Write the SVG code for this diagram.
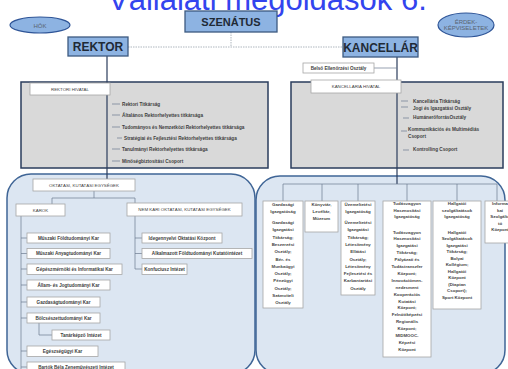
<svg xmlns="http://www.w3.org/2000/svg" width="508" height="369" viewBox="0 0 508 369">
<style>
text{font-family:"Liberation Sans",Arial,sans-serif}
.title{font-size:31px;fill:#3344ee}
.bluebox{fill:#8db3e2;stroke:#3d5a80;stroke-width:1.3}
.bold{font-weight:bold;fill:#1f2a36;text-anchor:middle}
.ell{fill:#8db3e2;stroke:#2f5597;stroke-width:1.2}
.etx{font-size:6px;fill:#5a6470;text-anchor:middle}
.grey{fill:#d9d9d9;stroke:#2a3c5c;stroke-width:1.5}
.lblue{fill:#dce6f2;stroke:#3f6596;stroke-width:1.5}
.wb{fill:#fff;stroke:#a6a6a6;stroke-width:0.8}
.lbl{font-size:4.4px;fill:#404040;text-anchor:middle}
.it{font-size:4.7px;font-weight:bold;fill:#404040}
.itc{font-size:4.6px;font-weight:bold;fill:#404040;text-anchor:middle}
.col{font-size:4.4px;font-weight:bold;fill:#454545;text-anchor:middle}
.ln{stroke:#2a3c5c;stroke-width:1.2;fill:none}
.tk{stroke:#6b7a8f;stroke-width:0.7;fill:none}
.dash{stroke:#9aa3ad;stroke-width:0.8;stroke-dasharray:1.5 1;fill:none}
</style>
<rect width="508" height="369" fill="#fff"/>
<text class="title" x="108" y="9.5">Vállalati megoldások 6.</text>

<g id="containers">
<rect id="rektori-hivatal-box" class="grey" x="21" y="82" width="247" height="86"/>
<rect id="kancellaria-hivatal-box" class="grey" x="291" y="82" width="212" height="86"/>
<rect id="oktatasi-container" class="lblue" x="7" y="174" width="248" height="200" rx="24"/>
<rect id="gazdasagi-container" class="lblue" x="256" y="176" width="249" height="198" rx="24"/>
</g>

<g id="connectors">
<path class="dash" d="M128 47H343M231 32V47"/>
<path class="ln" d="M107 56V179"/>
<path class="ln" d="M397 57V184"/>
<path class="tk" d="M374 68H397"/>
<path class="tk" d="M112 104H120M112 115H120M112 127H120M117 138H122M112 149H120M112 161H120"/>
<path class="tk" d="M401 101H408M401 107H408M403 118H409M401 131H407M403 150H409"/>
<path class="tk" d="M94 191V198M52 198H135M52 198V204M135 198V203"/>
<path class="tk" d="M21 216V369M21 238H27M21 253.5H27M21 269H27M21 285H27M21 302H27M21 318H27M21 351H27M21 367H27M39 323V335H52"/>
<path class="tk" d="M135 216V269M135 238H142M135 253.5H142M135 269H142"/>
<path class="tk" d="M283 184H497M283 184V201M322 184V201M358 184V201M407 184V201M457 184V201M497 184V201"/>
</g>

<g id="szenatus"><rect class="bluebox" x="185" y="11" width="92" height="21"/><text class="bold" x="231" y="25.5" font-size="11">SZENÁTUS</text></g>
<g id="hok"><ellipse class="ell" cx="40" cy="25" rx="30" ry="8"/><text class="etx" x="40" y="27.5" font-size="7">HÓK</text></g>
<g id="erdekkepviseletek"><ellipse class="ell" cx="466" cy="25" rx="28" ry="12"/><text class="etx" x="466" y="23.5">ÉRDEK-</text><text class="etx" x="466" y="30" font-size="5.5">KÉPVISELETEK</text></g>
<g id="rektor"><rect class="bluebox" x="68" y="37" width="60" height="19"/><text class="bold" x="98" y="51" font-size="12">REKTOR</text></g>
<g id="kancellar"><rect class="bluebox" x="343" y="37" width="75" height="20"/><text class="bold" x="380.5" y="51.5" font-size="12">KANCELLÁR</text></g>

<g id="rektori-hivatal">
<rect class="wb" x="30" y="83" width="80" height="12"/>
<text class="lbl" x="70" y="90.5">REKTORI HIVATAL</text>
<text class="it" x="122" y="105.5">Rektori Titkárság</text>
<text class="it" x="122" y="116.5">Általános Rektorhelyettes titkársága</text>
<text class="it" x="122" y="128.5">Tudományos és Nemzetközi Rektorhelyettes titkársága</text>
<text class="it" x="124" y="139.5">Stratégiai és Fejlesztési Rektorhelyettes titkársága</text>
<text class="it" x="122" y="150.5">Tanulmányi Rektorhelyettes titkársága</text>
<text class="it" x="122" y="162.5">Minőségbiztosítási Csoport</text>
</g>

<g id="belso-ellenorzes"><rect class="wb" x="303" y="63" width="71" height="10"/><text class="itc" x="338.5" y="69.6">Belső Ellenőrzési Osztály</text></g>

<g id="kancellaria-hivatal">
<rect class="wb" x="311" y="80" width="90" height="13"/>
<text class="lbl" x="356" y="88">KANCELLÁRIA HIVATAL</text>
<text class="it" x="413" y="103">Kancellária Titkárság</text>
<text class="it" x="413" y="110">Jogi és Igazgatási Osztály</text>
<text class="it" x="413" y="119">HumánerőforrásOsztály</text>
<text class="it" x="408" y="131">Kommunikációs és Multimédiás</text>
<text class="it" x="408" y="137.5">Csoport</text>
<text class="it" x="413" y="150.5">Kontrolling Csoport</text>
</g>

<g id="oktatasi-egysegek"><rect class="wb" x="33" y="179" width="102" height="12"/><text class="lbl" x="84" y="186.5">OKTATÁSI, KUTATÁSI EGYSÉGEK</text></g>
<g id="karok"><rect class="wb" x="16" y="204" width="49" height="12"/><text class="lbl" x="40.5" y="211.5">KAROK</text></g>
<g id="nem-kari"><rect class="wb" x="127" y="203" width="115" height="13"/><text class="lbl" x="184.5" y="211">NEM KARI OKTATÁSI, KUTATÁSI EGYSÉGEK</text></g>

<g id="kar1"><rect class="wb" x="27" y="233" width="83" height="10"/><text class="itc" x="68.5" y="239.7">Műszaki Földtudományi Kar</text></g>
<g id="kar2"><rect class="wb" x="27" y="248.5" width="83" height="10"/><text class="itc" x="68.5" y="255.2">Műszaki Anyagtudományi Kar</text></g>
<g id="kar3"><rect class="wb" x="27" y="264" width="95" height="10.5"/><text class="itc" x="74.5" y="270.9">Gépészmérnöki és Informatikai Kar</text></g>
<g id="kar4"><rect class="wb" x="27" y="280" width="83" height="10"/><text class="itc" x="68.5" y="286.7">Állam- és Jogtudományi Kar</text></g>
<g id="kar5"><rect class="wb" x="27" y="297" width="73" height="10"/><text class="itc" x="63.5" y="303.7">Gazdaságtudományi Kar</text></g>
<g id="kar6"><rect class="wb" x="27" y="313" width="73" height="10"/><text class="itc" x="63.5" y="319.7">Bölcsészettudományi Kar</text></g>
<g id="tanarkepzo"><rect class="wb" x="52" y="330" width="58" height="10"/><text class="itc" x="81" y="336.7">Tanárképző Intézet</text></g>
<g id="kar7"><rect class="wb" x="27" y="346" width="71" height="10.5"/><text class="itc" x="62.5" y="352.9">Egészségügyi Kar</text></g>
<g id="kar8"><rect class="wb" x="27" y="362" width="98" height="12"/><text class="itc" x="76" y="368.7">Bartók Béla Zeneművészeti Intézet</text></g>

<g id="nk1"><rect class="wb" x="142" y="233" width="80" height="10"/><text class="itc" x="182" y="239.7">Idegennyelvi Oktatási Központ</text></g>
<g id="nk2"><rect class="wb" x="142" y="248.5" width="110" height="10"/><text class="itc" x="197" y="255.2">Alkalmazott Földtudományi Kutatóintézet</text></g>
<g id="nk3"><rect class="wb" x="142" y="264" width="45" height="10.5"/><text class="itc" x="164.5" y="270.9">Konfuciusz Intézet</text></g>

<g id="gazdasagi">
<rect class="wb" x="263" y="201" width="40" height="107"/>
<text class="col" x="283"><tspan x="283" y="205.5">Gazdasági</tspan><tspan x="283" y="212.5">Igazgatóság</tspan><tspan x="283" y="224">Gazdasági</tspan><tspan x="283" y="231.3">Igazgatási</tspan><tspan x="283" y="238.6">Titkárság;</tspan><tspan x="283" y="245.9">Beszerzési</tspan><tspan x="283" y="253.2">Osztály;</tspan><tspan x="283" y="260.5">Bér- és</tspan><tspan x="283" y="267.8">Munkaügyi</tspan><tspan x="283" y="275.1">Osztály;</tspan><tspan x="283" y="282.4">Pénzügyi</tspan><tspan x="283" y="289.7">Osztály;</tspan><tspan x="283" y="297">Számviteli</tspan><tspan x="283" y="304.3">Osztály</tspan></text>
</g>
<g id="konyvtar">
<rect class="wb" x="305" y="201" width="33" height="31"/>
<text class="col" x="321.5"><tspan x="321.5" y="206">Könyvtár,</tspan><tspan x="321.5" y="213">Levéltár,</tspan><tspan x="321.5" y="220">Múzeum</tspan></text>
</g>
<g id="uzemeltetesi">
<rect class="wb" x="341" y="201" width="34" height="94"/>
<text class="col" x="358"><tspan x="358" y="205.5">Üzemeltetési</tspan><tspan x="358" y="212.5">Igazgatóság</tspan><tspan x="358" y="224">Üzemeltetési</tspan><tspan x="358" y="231.3">Igazgatási</tspan><tspan x="358" y="238.6">Titkárság;</tspan><tspan x="358" y="245.9">Létesítmény</tspan><tspan x="358" y="253.2">Ellátási</tspan><tspan x="358" y="260.5">Osztály;</tspan><tspan x="358" y="267.8">Létesítmény</tspan><tspan x="358" y="275.1">Fejlesztési és</tspan><tspan x="358" y="282.4">Karbantartási</tspan><tspan x="358" y="289.7">Osztály</tspan></text>
</g>
<g id="tudasvagyon">
<rect class="wb" x="383" y="201" width="48" height="156"/>
<text class="col" x="407"><tspan x="407" y="205">Tudásvagyon</tspan><tspan x="407" y="211.5">Hasznosítási</tspan><tspan x="407" y="218">Igazgatóság</tspan><tspan x="407" y="233.5">Tudásvagyon</tspan><tspan x="407" y="240.4">Hasznosítási</tspan><tspan x="407" y="247.3">Igazgatási</tspan><tspan x="407" y="254.2">Titkárság;</tspan><tspan x="407" y="261.1">Pályázati és</tspan><tspan x="407" y="268">Tudástranszfer</tspan><tspan x="407" y="274.9">Központ;</tspan><tspan x="407" y="281.8">Innovációmen-</tspan><tspan x="407" y="288.7">nedzsment</tspan><tspan x="407" y="295.6">Kooperációs</tspan><tspan x="407" y="302.5">Kutatási</tspan><tspan x="407" y="309.4">Központ;</tspan><tspan x="407" y="316.3">Felnőttképzési</tspan><tspan x="407" y="323.2">Regionális</tspan><tspan x="407" y="330.1">Központ;</tspan><tspan x="407" y="337">MIDMOOC-</tspan><tspan x="407" y="343.9">Képzési</tspan><tspan x="407" y="350.8">Központ</tspan></text>
</g>
<g id="hallgatoi">
<rect class="wb" x="433" y="201" width="48" height="108"/>
<text class="col" x="457"><tspan x="457" y="205">Hallgatói</tspan><tspan x="457" y="211.5">szolgáltatások</tspan><tspan x="457" y="218">Igazgatóság</tspan><tspan x="457" y="233.5">Hallgatói</tspan><tspan x="457" y="240">Szolgáltatások</tspan><tspan x="457" y="246.5">Igazgatási</tspan><tspan x="457" y="253">Titkárság;</tspan><tspan x="457" y="259.5">Bolyai</tspan><tspan x="457" y="266">Kollégium;</tspan><tspan x="457" y="272.5">Hallgatói</tspan><tspan x="457" y="279">Központ</tspan><tspan x="457" y="285.5">(Diaptan</tspan><tspan x="457" y="292">Csoport);</tspan><tspan x="457" y="298.5">Sport Központ</tspan></text>
</g>
<g id="informatikai">
<rect class="wb" x="485" y="201" width="30" height="42"/>
<text class="col" x="500"><tspan x="500" y="205">Informa</tspan><tspan x="500" y="211.5">kai</tspan><tspan x="500" y="218">Szolgálta</tspan><tspan x="500" y="224.5">tó</tspan><tspan x="500" y="231">Központ</tspan></text>
</g>
</svg>
